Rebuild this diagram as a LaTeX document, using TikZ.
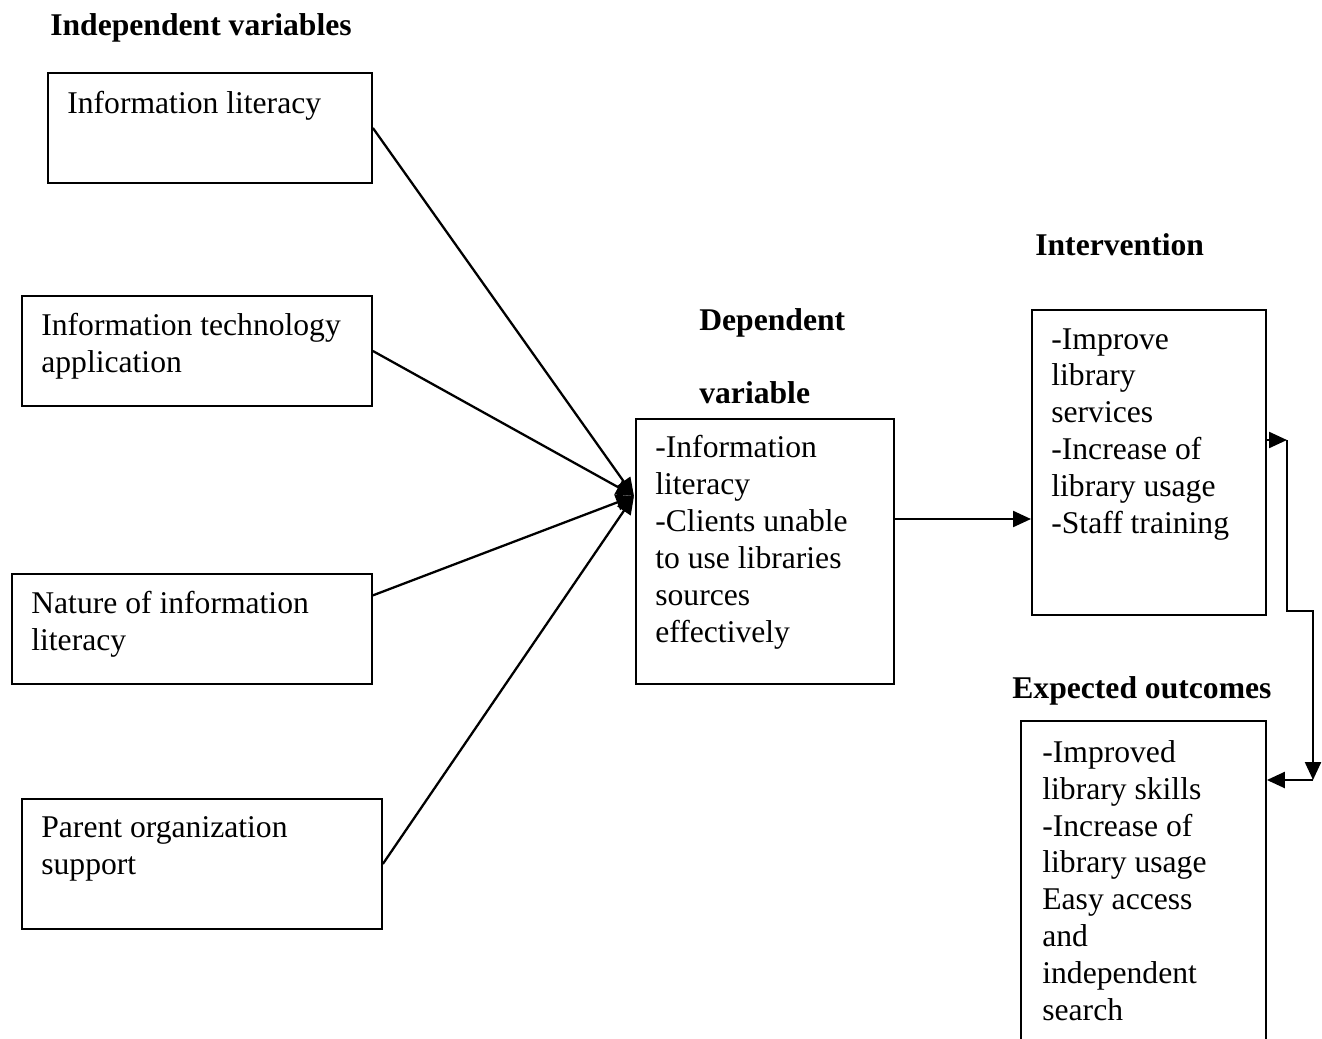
\documentclass[tikz,border=0pt]{standalone}
\usepackage{fontspec}
\setmainfont{Liberation Serif}
\usetikzlibrary{arrows.meta,calc}
\tikzset{
  box/.style={draw,line width=1.1pt,inner sep=0pt,anchor=north west},
  txt/.style={align=left,inner sep=0pt,anchor=north west,font=\fontsize{18}{21}\selectfont},
  head/.style={align=left,inner sep=0pt,anchor=north west,font=\fontsize{18}{21}\selectfont\bfseries},
  arr/.style={line width=1.3pt,-{Triangle[length=0.36cm,width=0.32cm]}}
}
\begin{document}
\begin{tikzpicture}[x=0.02cm,y=-0.02cm]
\useasboundingbox (0,0) rectangle (1322,1038);
% headings
\node[head] (hiv) at (50,13) {Independent variables};
\node[head] (hdep) at (699,308) {Dependent\\[20.5pt]variable};
\node[head] (hint) at (1035,233) {Intervention};
\node[head] (hout) at (1012,676) {Expected outcomes};
% independent variables
\node[box,minimum width=6.48cm,minimum height=2.2cm] (iv1) at (47,72) {};
\node[txt] (iv1t) at ([shift={(20,19)}]iv1.north west) {Information literacy};
\node[box,minimum width=7cm,minimum height=2.2cm] (iv2) at (21,295) {};
\node[txt] (iv2t) at ([shift={(20,18)}]iv2.north west) {Information technology\\application};
\node[box,minimum width=7.2cm,minimum height=2.2cm] (iv3) at (11,573) {};
\node[txt] (iv3t) at ([shift={(20,18)}]iv3.north west) {Nature of information\\literacy};
\node[box,minimum width=7.2cm,minimum height=2.6cm] (iv4) at (21,798) {};
\node[txt] (iv4t) at ([shift={(20,18)}]iv4.north west) {Parent organization\\support};
% dependent variable
\node[box,minimum width=5.16cm,minimum height=5.3cm] (dep) at (635,418) {};
\node[txt] (dept) at ([shift={(20,17)}]dep.north west) {-Information\\literacy\\-Clients unable\\to use libraries\\sources\\effectively};
% intervention
\node[box,minimum width=4.68cm,minimum height=6.1cm] (int) at (1031,309) {};
\node[txt] (intt) at ([shift={(20,19)}]int.north west) {-Improve\\library\\services\\-Increase of\\library usage\\-Staff training};
% expected outcomes (runs off the page)
\node[box,minimum width=4.9cm,minimum height=7.2cm] (out) at (1020,720) {};
\node[txt] (outt) at ([shift={(22,20)}]out.north west) {-Improved\\library skills\\-Increase of\\library usage\\Easy access\\and\\independent\\search};
% connectors
\coordinate (hub) at (634,496);
\foreach \n in {iv1,iv2,iv4} \draw[arr] (\n.east) -- (hub);
\draw[arr] ($(iv3.north east)!0.2!(iv3.south east)$) -- (hub);
\draw[arr] (dep.east |- 0,519) -- (int.west |- 0,519);
\coordinate (c1) at (1287,440);
\coordinate (c2) at (1287,611);
\coordinate (c3) at (1313,611);
\coordinate (c4) at (1313,780);
\draw[arr] (int.east |- c1) -- (c1);
\draw[arr] (c1) -- (c2) -- (c3) -- (c4);
\draw[arr] (c4) -- (out.east |- c4);
\end{tikzpicture}
\end{document}
